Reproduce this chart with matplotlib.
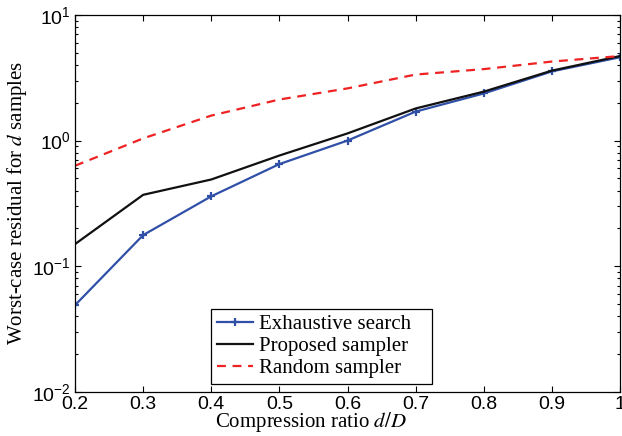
import matplotlib
matplotlib.use("agg")
import matplotlib.pyplot as plt
from matplotlib.ticker import FixedLocator, LogLocator, NullFormatter

ratio = [0.2, 0.3, 0.4, 0.5, 0.6, 0.7, 0.8, 0.9, 1.0]
exhaustive = [0.049, 0.177, 0.36, 0.65, 1.0, 1.7, 2.37, 3.55, 4.6]
proposed = [0.15, 0.37, 0.49, 0.76, 1.14, 1.8, 2.45, 3.6, 4.7]
random_s = [0.63, 1.04, 1.58, 2.12, 2.6, 3.35, 3.7, 4.25, 4.7]
xtick_labels = ["0.2", "0.3", "0.4", "0.5", "0.6", "0.7", "0.8", "0.9", "1"]

plt.rcParams["mathtext.fontset"] = "stix"

fig = plt.figure(figsize=(6.22, 4.36), dpi=100)
ax = fig.add_axes([0.1206, 0.101, 0.8764, 0.865])

ax.plot(ratio, exhaustive, color="#3050a8", lw=1.6, marker="+", ms=6, mew=1.6,
        label="Exhaustive search")
ax.plot(ratio, proposed, color="#111111", lw=1.6, label="Proposed sampler")
ax.plot(ratio, random_s, color="#ee2222", lw=1.6, ls=(0, (4, 3)), label="Random sampler")

ax.set_yscale("log")
ax.set_xlim(0.2, 1.0)
ax.set_ylim(1e-2, 1e1)
ax.xaxis.set_major_locator(FixedLocator(ratio))
ax.set_xticklabels(xtick_labels, family="Liberation Sans", fontsize=14)
ax.yaxis.set_major_locator(LogLocator(base=10, numticks=10))
ax.yaxis.set_minor_locator(LogLocator(base=10, subs=range(2, 10), numticks=10))
ax.yaxis.set_minor_formatter(NullFormatter())
for lab in ax.get_yticklabels():
    lab.set_family("Liberation Sans")
    lab.set_fontsize(14)

ax.tick_params(which="both", direction="in", top=True, right=True, width=0.8)
ax.tick_params(which="major", length=4)
ax.tick_params(which="minor", length=2.5)
ax.tick_params(axis="x", pad=3)
ax.tick_params(axis="y", pad=3)
for s in ax.spines.values():
    s.set_linewidth(0.9)

ax.set_xlabel("Compression ratio $d/D$", family="Liberation Serif", fontsize=15)
ax.xaxis.set_label_coords(0.433, -0.048, transform=ax.transAxes)
ax.xaxis.label.set_va("top")
ax.set_ylabel("Worst-case residual for $d$ samples", family="Liberation Serif", fontsize=15, labelpad=2)

leg = ax.legend(loc="lower left", bbox_to_anchor=(0.2495, 0.021, 0.405, 0.196),
                mode="expand", borderaxespad=0, fancybox=False, framealpha=1,
                edgecolor="black", prop={"family": "Liberation Serif", "size": 15},
                handlelength=1.7, handletextpad=0.3, borderpad=0.3, labelspacing=0.1)
leg.get_frame().set_linewidth(0.9)

fig.savefig("out.png", dpi=100)
